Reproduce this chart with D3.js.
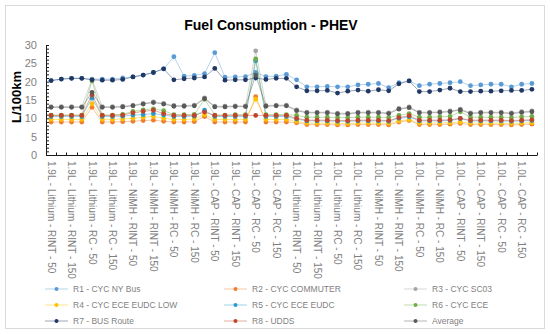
<!DOCTYPE html>
<html><head><meta charset="utf-8">
<script src="https://cdn.jsdelivr.net/npm/d3@7/dist/d3.min.js"></script>
<style>
body{margin:0;background:#fff;}
svg{display:block;font-family:"Liberation Sans",Arial,sans-serif;}
</style>
</head><body>
<svg id="chart" width="550" height="334"></svg>
<script>
// ---------- DATA ----------
const title = "Fuel Consumption - PHEV";
const yLabel = "L/100km";
const yTicks = [0, 5, 10, 15, 20, 25, 30];

const categories = [
  "1.9L - Lithium - RINT - 50","1.9L - Lithium - RINT - 100","1.9L - Lithium - RINT - 150","1.9L - Lithium - RINT - 200",
  "1.9L - Lithium - RC - 50","1.9L - Lithium - RC - 100","1.9L - Lithium - RC - 150","1.9L - Lithium - RC - 200",
  "1.9L - NiMH - RINT - 50","1.9L - NiMH - RINT - 100","1.9L - NiMH - RINT - 150","1.9L - NiMH - RINT - 200",
  "1.9L - NiMH - RC - 50","1.9L - NiMH - RC - 100","1.9L - NiMH - RC - 150","1.9L - NiMH - RC - 200",
  "1.9L - CAP - RINT - 50","1.9L - CAP - RINT - 100","1.9L - CAP - RINT - 150","1.9L - CAP - RINT - 200",
  "1.9L - CAP - RC - 50","1.9L - CAP - RC - 100","1.9L - CAP - RC - 150","1.9L - CAP - RC - 200",
  "1.0L - Lithium - RINT - 50","1.0L - Lithium - RINT - 100","1.0L - Lithium - RINT - 150","1.0L - Lithium - RINT - 200",
  "1.0L - Lithium - RC - 50","1.0L - Lithium - RC - 100","1.0L - Lithium - RC - 150","1.0L - Lithium - RC - 200",
  "1.0L - NiMH - RINT - 50","1.0L - NiMH - RINT - 100","1.0L - NiMH - RINT - 150","1.0L - NiMH - RINT - 200",
  "1.0L - NiMH - RC - 50","1.0L - NiMH - RC - 100","1.0L - NiMH - RC - 150","1.0L - NiMH - RC - 200",
  "1.0L - CAP - RINT - 50","1.0L - CAP - RINT - 100","1.0L - CAP - RINT - 150","1.0L - CAP - RINT - 200",
  "1.0L - CAP - RC - 50","1.0L - CAP - RC - 100","1.0L - CAP - RC - 150","1.0L - CAP - RC - 200"
];

const seriesNames = ["R1 - CYC NY Bus","R2 - CYC COMMUTER","R3 - CYC SC03","R4 - CYC ECE EUDC LOW","R5 - CYC ECE EUDC","R6 - CYC ECE","R7 - BUS Route","R8 - UDDS","Average"];
const seriesColors = ["#5B9BD5","#ED7D31","#A5A5A5","#FFC000","#2A9BCB","#70AD47","#203864","#C0442A","#595959"];

const r1 = [20.3,20.7,20.9,20.9,20.7,20.7,20.7,21.0,21.3,21.8,22.5,23.5,26.8,21.5,21.7,22.2,27.9,21.2,21.3,21.4,22.5,21.4,21.5,22.0,
            20.5,18.6,18.6,18.7,18.6,18.6,19.1,19.3,19.5,18.4,19.7,20.2,18.9,19.3,19.5,19.7,20.0,18.9,19.1,19.3,19.3,18.6,19.3,19.5];
const r2 = [9.0,9.0,9.0,9.0,13.0,9.0,9.0,9.1,9.2,9.4,9.5,9.2,9.0,9.0,9.1,10.5,9.0,9.0,9.0,9.0,15.9,9.0,9.0,9.0,
            8.8,8.3,8.3,8.3,8.2,8.2,8.3,8.3,8.3,8.2,9.0,9.4,8.3,8.3,8.3,8.4,8.6,8.3,8.3,8.3,8.3,8.2,8.3,8.4];
const r3 = [13.2,13.2,13.2,13.2,20.6,13.2,13.2,13.3,13.6,14.1,14.5,14.1,13.5,13.5,13.6,15.6,13.3,13.3,13.4,13.4,28.4,13.5,13.6,13.6,
            12.3,11.7,11.7,11.7,11.4,11.4,11.7,11.7,11.7,11.5,12.7,13.1,11.7,11.7,11.8,12.0,12.5,11.5,11.7,11.7,11.7,11.5,11.8,12.0];
const r4 = [9.7,9.7,9.7,9.7,14.0,9.7,9.7,9.8,10.0,10.3,10.5,10.0,9.7,9.7,9.8,11.0,9.7,9.7,9.7,9.7,15.2,9.7,9.7,9.7,
            9.2,8.7,8.7,8.7,8.6,8.6,8.7,8.7,8.7,8.6,9.3,9.6,8.7,8.7,8.7,8.8,9.0,8.7,8.7,8.7,8.7,8.6,8.7,8.8];
const r5 = [10.5,10.5,10.5,10.5,15.5,10.5,10.5,10.6,10.9,11.0,11.3,10.9,10.5,10.5,10.6,12.2,10.5,10.5,10.5,10.5,25.7,10.5,10.5,10.5,
            9.8,9.3,9.3,9.3,9.2,9.2,9.3,9.3,9.3,9.2,10.0,10.4,9.3,9.3,9.3,9.4,9.9,9.3,9.3,9.3,9.3,9.2,9.3,9.4];
const r6 = [10.9,10.9,10.9,10.9,20.2,10.9,10.9,11.1,11.9,12.3,12.6,12.1,11.0,11.0,11.1,15.2,10.9,10.9,11.0,11.0,26.2,11.0,11.0,11.0,
            10.8,10.3,10.3,10.3,10.2,10.2,10.3,10.3,10.3,10.2,10.8,11.3,10.3,10.3,10.4,10.5,11.8,10.3,10.3,10.3,10.3,10.2,10.4,10.5];
const r7 = [20.3,20.7,20.9,20.9,20.5,20.4,20.4,20.6,21.3,21.8,22.5,23.5,20.5,20.8,21.0,21.3,23.6,20.4,20.5,20.5,21.0,20.6,20.9,20.9,
            18.6,17.5,17.5,17.6,16.9,17.4,17.7,17.4,17.8,17.5,19.4,20.2,17.3,17.3,17.7,18.2,17.3,17.3,17.4,17.4,17.5,17.6,17.6,17.9];
const r8 = [10.8,10.8,10.8,10.8,16.4,10.8,10.8,10.9,11.5,11.9,12.2,11.3,10.8,10.8,10.8,11.7,10.8,10.8,10.8,10.8,10.8,10.8,10.8,10.8,
            10.0,9.5,9.5,9.5,9.4,9.4,9.5,9.5,9.5,9.4,10.2,10.7,9.5,9.5,9.5,9.6,10.0,9.5,9.5,9.5,9.5,9.4,9.5,9.6];
const avg = [13.0,13.0,13.0,13.0,17.1,13.0,13.0,13.1,13.4,13.9,14.3,13.9,13.3,13.3,13.4,15.4,13.1,13.1,13.2,13.2,21.8,13.3,13.4,13.4,
             12.1,11.5,11.5,11.5,11.2,11.2,11.5,11.5,11.5,11.3,12.5,12.9,11.5,11.5,11.6,11.8,12.3,11.3,11.5,11.5,11.5,11.3,11.6,11.8];

const seriesValues = [r1, r2, r3, r4, r5, r6, r7, r8, avg];

// ---------- CHART ----------
const svg = d3.select("#chart");
const plot = {left: 46, right: 537, top: 45, bottom: 155};

svg.append("rect").attr("x", 0).attr("y", 0).attr("width", 550).attr("height", 334).attr("fill", "#fff");
svg.append("rect").attr("x", 5.5).attr("y", 5.5).attr("width", 539).attr("height", 323)
  .attr("fill", "none").attr("stroke", "#D9D9D9");

const x = d3.scaleBand().domain(categories).range([plot.left, plot.right]).padding(0);
const y = d3.scaleLinear().domain([0, 30]).range([plot.bottom, plot.top]);
const cx = c => x(c) + x.bandwidth() / 2;

// title
svg.append("text").attr("x", 271).attr("y", 30).attr("text-anchor", "middle")
  .attr("font-size", 14).attr("font-weight", "bold").attr("fill", "#000").text(title);

// y label
svg.append("text").attr("transform", "translate(21,97) rotate(-90)").attr("text-anchor", "middle")
  .attr("font-size", 13).attr("font-weight", "bold").attr("fill", "#000").text(yLabel);

// y axis labels
const yAxisLabels = svg.append("g").attr("transform", `translate(${plot.left},0)`)
  .call(d3.axisLeft(y).tickValues(yTicks).tickSize(0).tickPadding(9));
yAxisLabels.select(".domain").remove();
yAxisLabels.selectAll("text").attr("font-size", 11).attr("fill", "#7F7F7F")
  .attr("font-family", '"Liberation Sans",Arial,sans-serif');

// y axis line and minor ticks
const yAxisTicks = svg.append("g").attr("transform", `translate(${plot.left},0)`)
  .call(d3.axisRight(y).tickValues(d3.range(0, 31, 1)).tickSize(3).tickSizeOuter(0).tickFormat(""));
yAxisTicks.select(".domain").attr("stroke", "#1a1a1a");
yAxisTicks.selectAll(".tick line").attr("stroke", "#1a1a1a");

// x axis line and ticks at category boundaries
const gx = svg.append("g");
gx.append("line").attr("x1", plot.left).attr("x2", plot.right).attr("y1", plot.bottom + 0.5).attr("y2", plot.bottom + 0.5)
  .attr("stroke", "#1a1a1a");
const boundaries = categories.map(c => x(c)).concat([x(categories[categories.length - 1]) + x.bandwidth()]);
gx.selectAll("line.tk").data(boundaries).join("line").attr("class", "tk")
  .attr("x1", d => Math.round(d) + 0.5).attr("x2", d => Math.round(d) + 0.5)
  .attr("y1", plot.bottom - 2.5).attr("y2", plot.bottom + 0.5).attr("stroke", "#1a1a1a");

// x labels (every other category)
svg.append("g").selectAll("text").data(categories.filter((c, i) => i % 2 === 0)).join("text")
  .attr("transform", c => `translate(${cx(c)},161) rotate(90)`)
  .attr("text-anchor", "start").attr("dominant-baseline", "central")
  .attr("font-size", 10).attr("fill", "#7F7F7F").text(c => c);

// series
const line = d3.line().x((d, i) => cx(categories[i])).y(d => y(d));
const gs = svg.append("g");
seriesValues.forEach((vals, si) => {
  const g = gs.append("g");
  g.append("path").datum(vals).attr("d", line).attr("fill", "none")
    .attr("stroke", seriesColors[si]).attr("stroke-width", 1).attr("stroke-opacity", 0.45);
  g.selectAll("circle").data(vals).join("circle")
    .attr("cx", (d, i) => cx(categories[i])).attr("cy", d => y(d)).attr("r", 2.4)
    .attr("fill", seriesColors[si]);
});

// legend
const legCols = [45, 224, 404];
const legRows = [289, 305, 321];
const leg = svg.append("g");
seriesNames.forEach((name, i) => {
  const lx = legCols[i % 3], ly = legRows[Math.floor(i / 3)];
  leg.append("line").attr("x1", lx).attr("x2", lx + 23).attr("y1", ly).attr("y2", ly)
    .attr("stroke", seriesColors[i]).attr("stroke-opacity", 0.45);
  leg.append("circle").attr("cx", lx + 11.5).attr("cy", ly).attr("r", 2).attr("fill", seriesColors[i]);
  leg.append("text").attr("x", lx + 28).attr("y", ly).attr("dominant-baseline", "central")
    .attr("font-size", 8.5).attr("fill", "#7F7F7F").text(name);
});
</script>
</body></html>
